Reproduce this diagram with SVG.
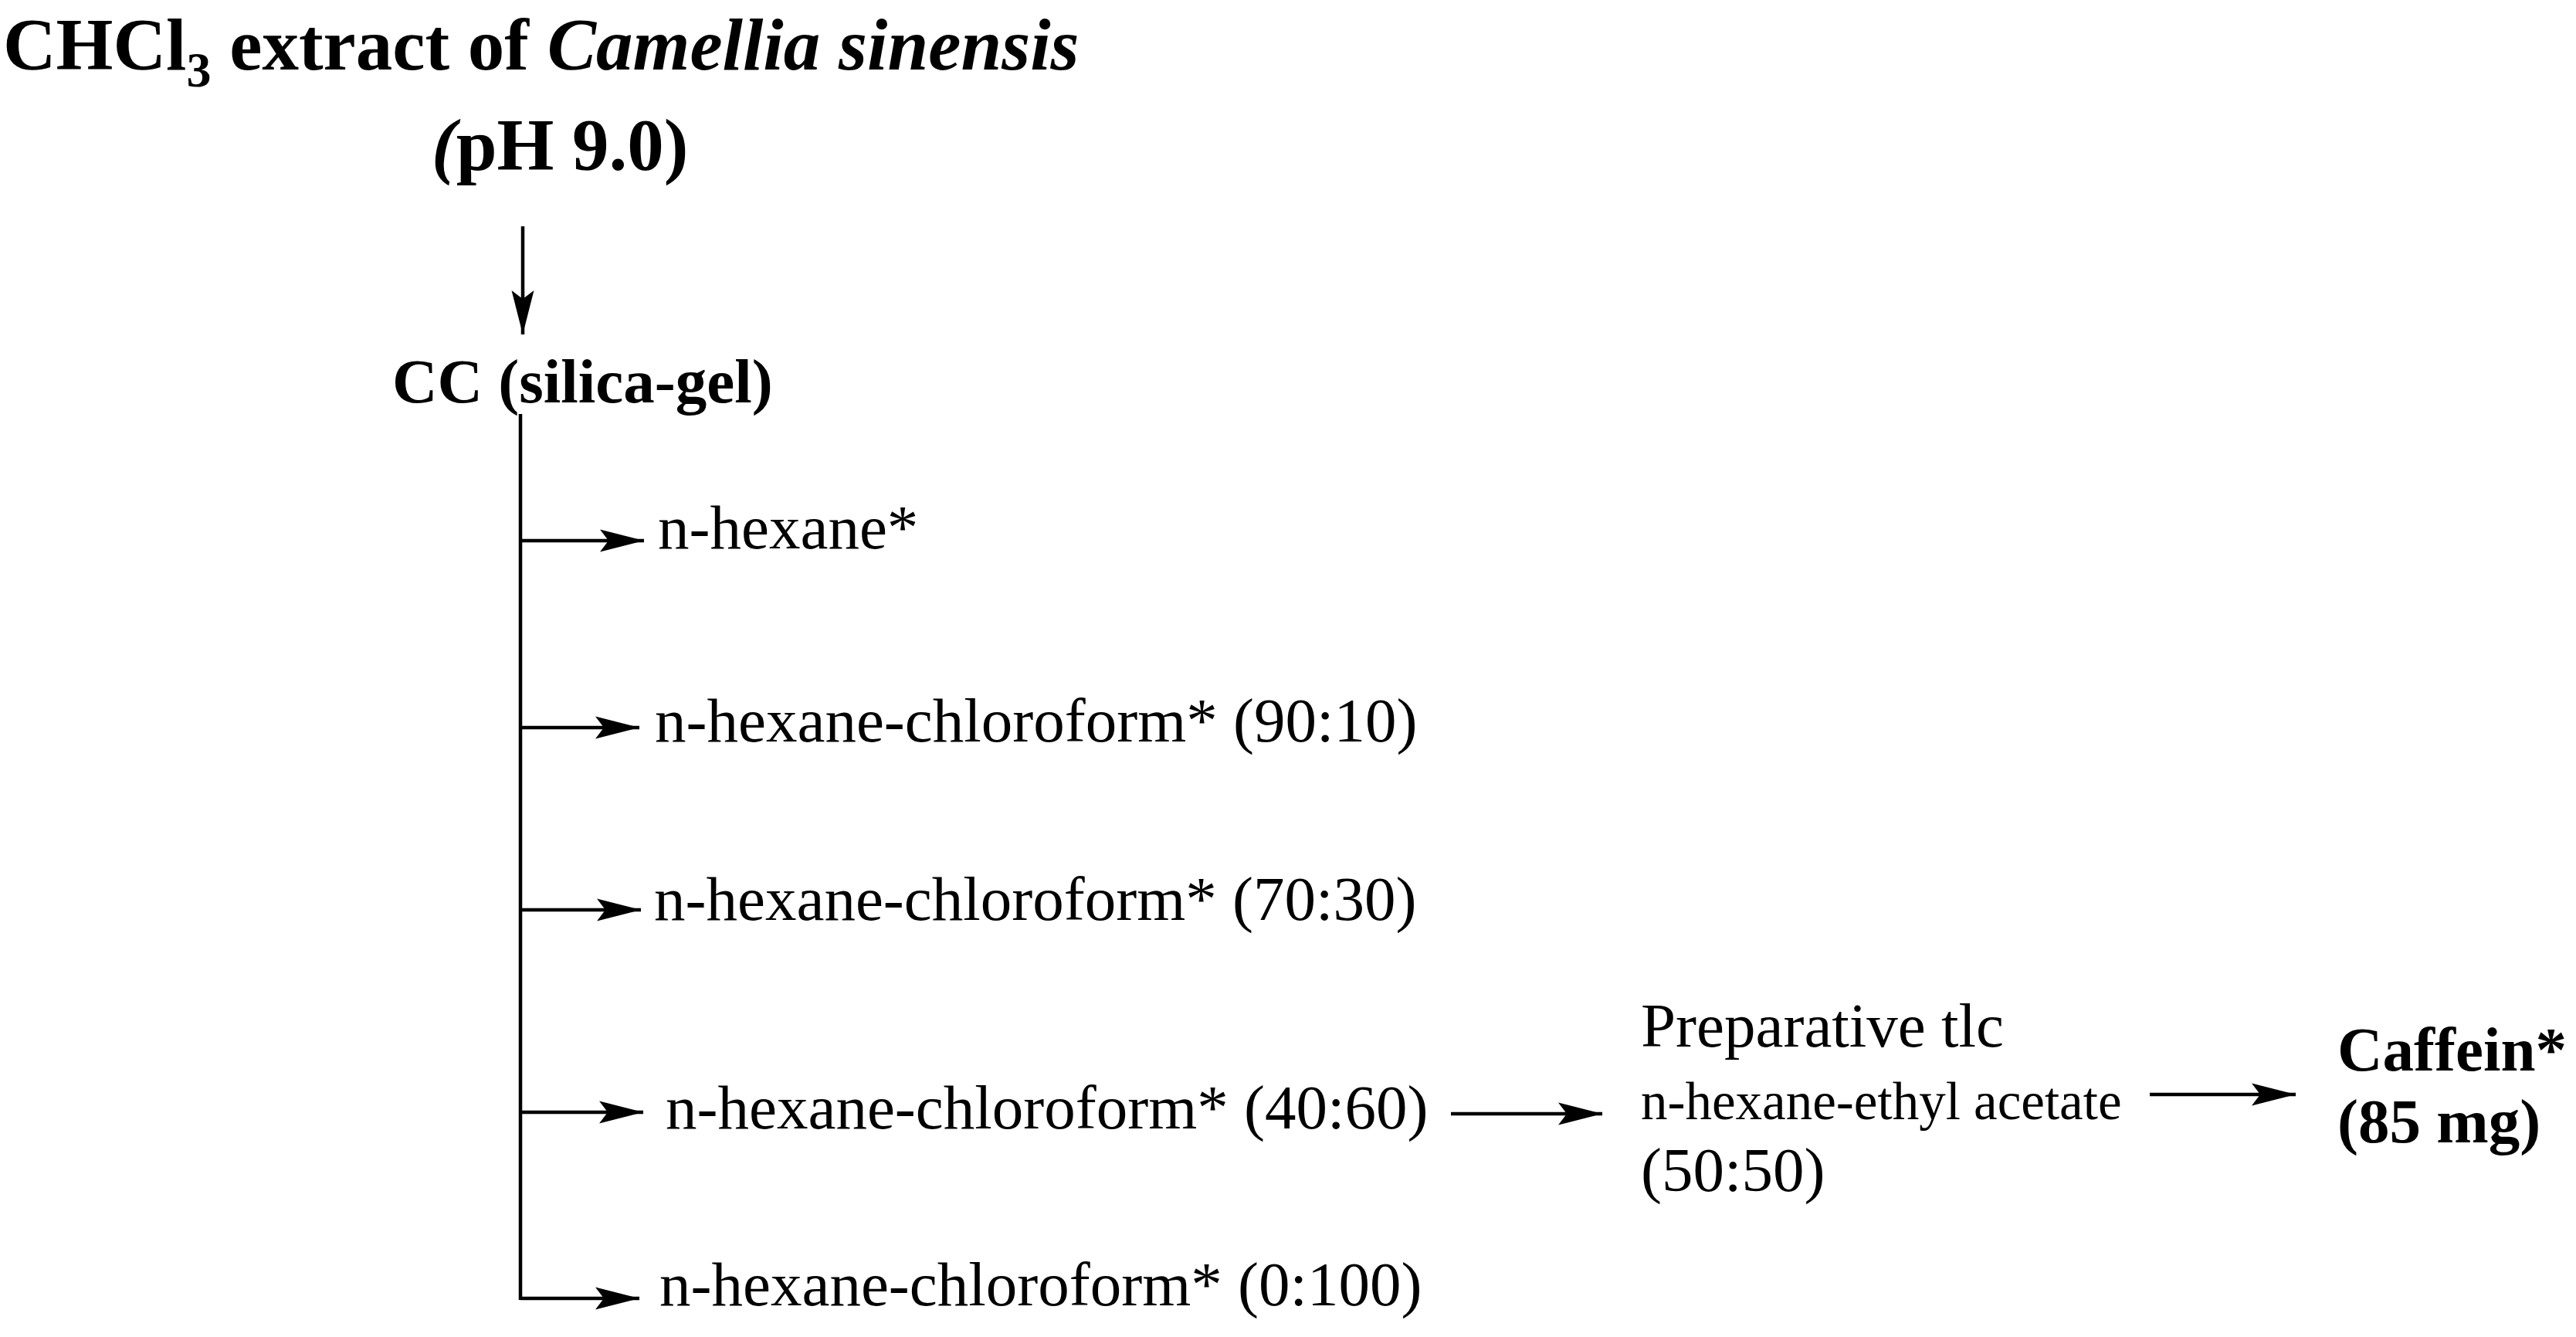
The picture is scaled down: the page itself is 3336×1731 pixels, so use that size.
<svg xmlns="http://www.w3.org/2000/svg" width="3336" height="1731" viewBox="0 0 3336 1731">
<style>
text{font-family:"Liberation Serif","Times New Roman",serif;fill:#000}
.b{font-weight:bold}
.r{font-size:81px}
.ln{stroke:#000;stroke-width:4.5;fill:none}
</style>
<defs>
<marker id="ah" markerUnits="userSpaceOnUse" markerWidth="60" markerHeight="32" refX="57" refY="14.5" orient="auto" overflow="visible">
<path d="M0,0 L57,14.5 L0,29 L11,14.5 Z" fill="#000"/>
</marker>
</defs>
<rect width="3336" height="1731" fill="#fff"/>
<g id="connectors">
<line class="ln" x1="677" y1="293" x2="677" y2="433" marker-end="url(#ah)"/>
<line class="ln" x1="674" y1="536" x2="674" y2="1683"/>
<line class="ln" x1="674" y1="700" x2="834" y2="700" marker-end="url(#ah)"/>
<line class="ln" x1="674" y1="942" x2="828" y2="942" marker-end="url(#ah)"/>
<line class="ln" x1="674" y1="1178" x2="830" y2="1178" marker-end="url(#ah)"/>
<line class="ln" x1="674" y1="1440" x2="833" y2="1440" marker-end="url(#ah)"/>
<line class="ln" x1="674" y1="1681" x2="828" y2="1681" marker-end="url(#ah)"/>
<line class="ln" x1="1879" y1="1442" x2="2075" y2="1442" marker-end="url(#ah)"/>
<line class="ln" x1="2784" y1="1417" x2="2973" y2="1417" marker-end="url(#ah)"/>
</g>
<g id="source">
<text class="b" x="4" y="90" font-size="95">CHCl<tspan font-size="64" dy="22">3</tspan><tspan dy="-22"> extract of </tspan><tspan font-style="italic">Camellia sinensis</tspan></text>
<text class="b" x="559" y="220" font-size="95"><tspan font-style="italic">(</tspan>pH 9.0)</text>
</g>
<g id="cc">
<text class="b" x="508" y="521" font-size="81">CC (silica-gel)</text>
</g>
<g id="f1"><text class="r" x="852" y="710">n-hexane*</text></g>
<g id="f2"><text class="r" x="848" y="960">n-hexane-chloroform* (90:10)</text></g>
<g id="f3"><text class="r" x="847" y="1191">n-hexane-chloroform* (70:30)</text></g>
<g id="f4"><text class="r" x="862" y="1461">n-hexane-chloroform* (40:60)</text></g>
<g id="f5"><text class="r" x="854" y="1690">n-hexane-chloroform* (0:100)</text></g>
<g id="prep">
<text class="r" x="2125" y="1355">Preparative tlc</text>
<text x="2125" y="1449" font-size="69">n-hexane-ethyl acetate</text>
<text class="r" x="2125" y="1542">(50:50)</text>
</g>
<g id="caffein">
<text class="b" x="3027" y="1386" font-size="81">Caffein*</text>
<text class="b" x="3027" y="1479" font-size="81">(85 mg)</text>
</g>
</svg>
